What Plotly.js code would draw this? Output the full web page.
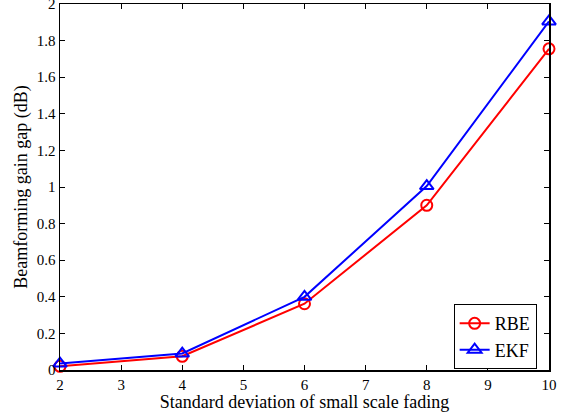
<!DOCTYPE html>
<html><head><meta charset="utf-8">
<script src="https://cdn.plot.ly/plotly-3.0.1.min.js"></script>
<style>html,body{margin:0;padding:0;background:#fff}</style>
</head><body><div id="chart" style="width:569px;height:413px"></div>
<script>
const xVals = [2, 4, 6, 8, 10];
const rbe = [0.02, 0.075, 0.362, 0.9, 1.755];
const ekf = [0.035, 0.09, 0.4, 1.005, 1.905];
const xTicks = [2, 3, 4, 5, 6, 7, 8, 9, 10];
const yTicks = [0, 0.2, 0.4, 0.6, 0.8, 1, 1.2, 1.4, 1.6, 1.8, 2];
const yTickText = ['0', '0.2', '0.4', '0.6', '0.8', '1', '1.2', '1.4', '1.6', '1.8', '2'];

const font = {family: 'Liberation Serif', color: '#000'};
const traces = [
  {x: xVals, y: rbe, name: 'RBE', mode: 'lines+markers', type: 'scatter', cliponaxis: false,
   line: {color: '#ff0000', width: 2}, marker: {symbol: 'circle-open', size: 11, color: '#ff0000', line: {width: 2}}},
  {x: xVals, y: ekf, name: 'EKF', mode: 'lines+markers', type: 'scatter', cliponaxis: false,
   line: {color: '#0000ff', width: 2}, marker: {symbol: 'triangle-up-open', size: 12, color: '#0000ff', line: {width: 2}}}
];
const axisCommon = {showgrid: false, zeroline: false, showline: true, linecolor: '#000', linewidth: 1.5,
  mirror: 'ticks', ticks: 'inside', ticklen: 5, tickwidth: 1, tickcolor: '#000',
  ticklabeloverflow: 'allow',
  tickfont: Object.assign({size: 15}, font)};
const layout = {
  width: 569, height: 413,
  margin: {l: 59.5, r: 19.5, t: 3.5, b: 42.5},
  paper_bgcolor: '#fff', plot_bgcolor: '#fff',
  font: font,
  showlegend: true,
  legend: {x: 0.805, y: 0.18, xanchor: 'left', yanchor: 'top', bgcolor: '#fff', bordercolor: '#000', borderwidth: 1,
    font: Object.assign({size: 18}, font), tracegroupgap: 0, itemwidth: 30},
  xaxis: Object.assign({}, axisCommon, {range: [2, 10], tickvals: xTicks, ticktext: xTicks.map(String),
    title: {text: 'Standard deviation of small scale fading', font: Object.assign({size: 18}, font), standoff: 0}}),
  yaxis: Object.assign({}, axisCommon, {range: [0, 2], tickvals: yTicks, ticktext: yTickText,
    title: {text: 'Beamforming gain gap (dB)', font: Object.assign({size: 18}, font), standoff: 4}})
};
Plotly.newPlot('chart', traces, layout, {displayModeBar: false, staticPlot: true});
</script></body></html>
